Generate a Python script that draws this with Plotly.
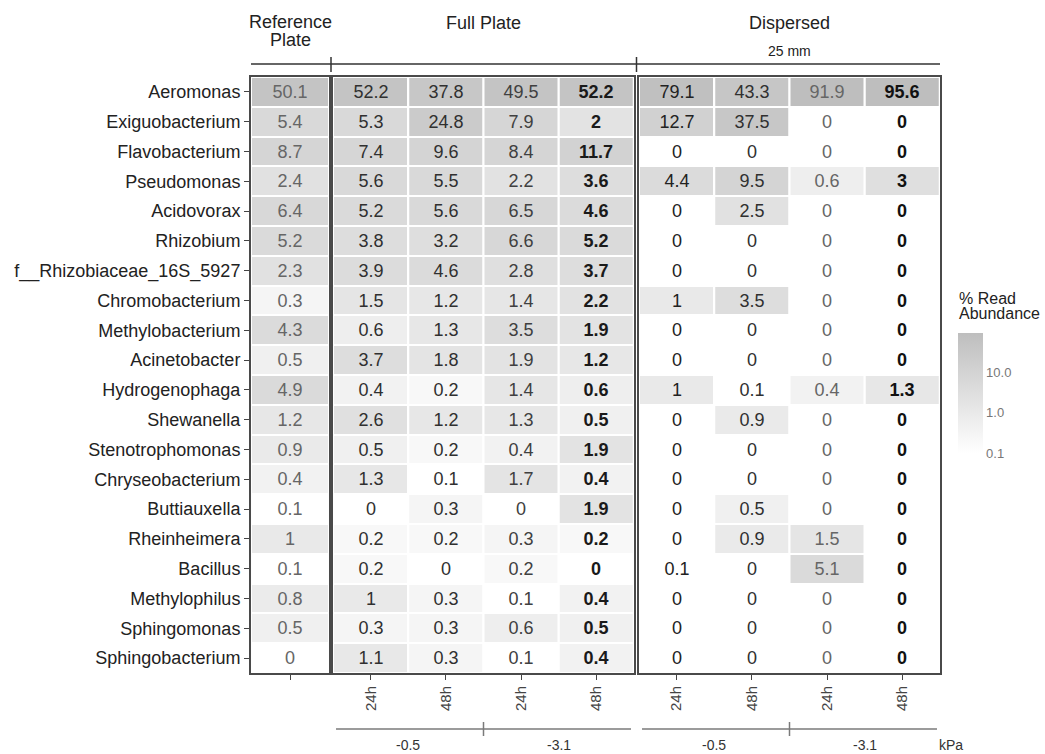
import numpy as np
import plotly.graph_objects as go

# Genera (rows, top to bottom)
genera = [
    "Aeromonas", "Exiguobacterium", "Flavobacterium", "Pseudomonas", "Acidovorax",
    "Rhizobium", "f__Rhizobiaceae_16S_5927", "Chromobacterium", "Methylobacterium",
    "Acinetobacter", "Hydrogenophaga", "Shewanella", "Stenotrophomonas",
    "Chryseobacterium", "Buttiauxella", "Rheinheimera", "Bacillus", "Methylophilus",
    "Sphingomonas", "Sphingobacterium",
]

# % read abundance per sample
reference_plate = [50.1, 5.4, 8.7, 2.4, 6.4, 5.2, 2.3, 0.3, 4.3, 0.5, 4.9, 1.2, 0.9, 0.4, 0.1, 1, 0.1, 0.8, 0.5, 0]

full_m05_24h = [52.2, 5.3, 7.4, 5.6, 5.2, 3.8, 3.9, 1.5, 0.6, 3.7, 0.4, 2.6, 0.5, 1.3, 0, 0.2, 0.2, 1, 0.3, 1.1]
full_m05_48h = [37.8, 24.8, 9.6, 5.5, 5.6, 3.2, 4.6, 1.2, 1.3, 1.8, 0.2, 1.2, 0.2, 0.1, 0.3, 0.2, 0, 0.3, 0.3, 0.3]
full_m31_24h = [49.5, 7.9, 8.4, 2.2, 6.5, 6.6, 2.8, 1.4, 3.5, 1.9, 1.4, 1.3, 0.4, 1.7, 0, 0.3, 0.2, 0.1, 0.6, 0.1]
full_m31_48h = [52.2, 2, 11.7, 3.6, 4.6, 5.2, 3.7, 2.2, 1.9, 1.2, 0.6, 0.5, 1.9, 0.4, 1.9, 0.2, 0, 0.4, 0.5, 0.4]

disp_m05_24h = [79.1, 12.7, 0, 4.4, 0, 0, 0, 1, 0, 0, 1, 0, 0, 0, 0, 0, 0.1, 0, 0, 0]
disp_m05_48h = [43.3, 37.5, 0, 9.5, 2.5, 0, 0, 3.5, 0, 0, 0.1, 0.9, 0, 0, 0.5, 0.9, 0, 0, 0, 0]
disp_m31_24h = [91.9, 0, 0, 0.6, 0, 0, 0, 0, 0, 0, 0.4, 0, 0, 0, 0, 1.5, 5.1, 0, 0, 0]
disp_m31_48h = [95.6, 0, 0, 3, 0, 0, 0, 0, 0, 0, 1.3, 0, 0, 0, 0, 0, 0, 0, 0, 0]

time_labels = ["24h", "48h", "24h", "48h"]
pressure_labels = ["-0.5", "-3.1"]
colorbar_ticks = [0.1, 1.0, 10.0]

FONT = "Liberation Sans, Arial, Helvetica, sans-serif"

# panel -> (axis suffix, columns, text colour, text weight)
panels = [
    ("", [reference_plate], [("#666666", "normal")]),
    ("2", [full_m05_24h, full_m05_48h, full_m31_24h, full_m31_48h],
     [("#303030", "normal"), ("#303030", "normal"), ("#404040", "normal"), ("#1a1a1a", "bold")]),
    ("3", [disp_m05_24h, disp_m05_48h, disp_m31_24h, disp_m31_48h],
     [("#222222", "normal"), ("#303030", "normal"), ("#666666", "normal"), ("#111111", "bold")]),
]

all_vals = np.array(reference_plate + full_m05_24h + full_m05_48h + full_m31_24h + full_m31_48h
                    + disp_m05_24h + disp_m05_48h + disp_m31_24h + disp_m31_48h, dtype=float)
pos = all_vals[all_vals > 0]
zmin, zmax = np.log10(pos.min()), np.log10(pos.max())


def log_fill(values):
    v = np.asarray(values, dtype=float)
    out = np.full(v.shape, zmin - 1.0)  # zero abundance -> below scale (white)
    out[v > 0] = np.log10(v[v > 0])
    return out


def fmt(v):
    return f"{v:g}"


fig = go.Figure()
for suffix, cols, styles in panels:
    for k, (col, (tcol, weight)) in enumerate(zip(cols, styles)):
        fig.add_trace(go.Heatmap(
            x=[k], y=genera,
            z=[[z] for z in log_fill(col)],
            text=[[fmt(v)] for v in col],
            texttemplate="%{text}",
            textfont=dict(family=FONT, size=18, color=tcol, weight=weight),
            coloraxis="coloraxis",
            xgap=2, ygap=2,
            xaxis="x" + suffix, yaxis="y" + suffix,
            hovertemplate="%{y}: %{text}<extra></extra>",
        ))

# plot area in pixels
W, H = 1045, 754
L, R, T, B = 251, 105, 77, 81
PW, PH = W - L - R, H - T - B


def px(xpix):
    return (xpix - L) / PW


def py(ypix):
    return (H - B - ypix) / PH


box = dict(showline=True, mirror=True, linecolor="#4a4a4a", linewidth=2, zeroline=False, showgrid=False)
xtick = dict(ticks="outside", ticklen=5, tickcolor="#444444", tickwidth=1,
             tickfont=dict(family=FONT, size=15, color="#444444"), tickangle=-90)
ycommon = dict(type="category", autorange="reversed", **box)

layout = dict(
    width=W, height=H,
    margin=dict(l=L, r=R, t=T, b=B, pad=0),
    paper_bgcolor="white", plot_bgcolor="white",
    font=dict(family=FONT, color="#222222"),
    showlegend=False,
    xaxis=dict(domain=[px(251), px(329)], range=[-0.5, 0.5], tickvals=[0], ticktext=[""], **xtick, **box),
    xaxis2=dict(domain=[px(333), px(634)], range=[-0.5, 3.5], tickvals=[0, 1, 2, 3], ticktext=time_labels, **xtick, **box),
    xaxis3=dict(domain=[px(639), px(940)], range=[-0.5, 3.5], tickvals=[0, 1, 2, 3], ticktext=time_labels, **xtick, **box),
    yaxis=dict(anchor="x", ticks="outside", ticklen=5, tickcolor="#444444",
               tickfont=dict(family=FONT, size=18, color="#222222"), **ycommon),
    yaxis2=dict(anchor="x2", matches="y", showticklabels=False, ticks="", **ycommon),
    yaxis3=dict(anchor="x3", matches="y", showticklabels=False, ticks="", **ycommon),
    coloraxis=dict(
        cmin=zmin, cmax=zmax,
        colorscale=[[0, "#ffffff"], [1, "#bebebe"]],
        colorbar=dict(
            x=px(958), xanchor="left", y=py(393), yanchor="middle",
            xpad=0, ypad=0,
            len=120, lenmode="pixels", thickness=25, thicknessmode="pixels",
            outlinewidth=0, ticks="",
            tickvals=[np.log10(t) for t in colorbar_ticks],
            ticktext=[f"{t:.1f}" for t in colorbar_ticks],
            tickfont=dict(family=FONT, size=13, color="#777777"),
        ),
    ),
)
fig.update_layout(**layout)

# column-group headers
headers = [
    ("Reference", "x domain", py(22), 18),
    ("Plate", "x domain", py(40), 18),
    ("Full Plate", "x2 domain", py(23), 18),
    ("Dispersed", "x3 domain", py(23), 18),
    ("25 mm", "x3 domain", py(51), 14),
]
for text, xref, yv, size in headers:
    fig.add_annotation(text=text, xref=xref, yref="paper", x=0.5, y=yv, showarrow=False,
                       xanchor="center", yanchor="middle",
                       font=dict(family=FONT, size=size, color="#222222"))

# top bracket spanning all panels
line_dark = dict(color="#333333", width=1.5)
fig.add_shape(type="line", xref="paper", yref="paper", x0=px(251), x1=px(940), y0=py(64), y1=py(64), line=line_dark)
for xb in (331, 636.5):
    fig.add_shape(type="line", xref="paper", yref="paper", x0=px(xb), x1=px(xb), y0=py(57), y1=py(72), line=line_dark)

# bottom pressure brackets
line_grey = dict(color="#7a7a7a", width=1.5)
for ax in ("x2", "x3"):
    fig.add_shape(type="line", xref=ax, yref="paper", x0=-0.46, x1=3.46, y0=py(729), y1=py(729), line=line_grey)
    fig.add_shape(type="line", xref=ax, yref="paper", x0=1.5, x1=1.5, y0=py(722), y1=py(736), line=line_grey)
    for j, lab in enumerate(pressure_labels):
        fig.add_annotation(text=lab, xref=ax, yref="paper", x=0.5 + 2 * j, y=py(745), showarrow=False,
                           xanchor="center", yanchor="middle",
                           font=dict(family=FONT, size=14, color="#333333"))
fig.add_annotation(text="kPa", xref="paper", yref="paper", x=px(951), y=py(745), showarrow=False,
                   xanchor="center", yanchor="middle", font=dict(family=FONT, size=14, color="#333333"))

# colour legend title
for text, yv in (("% Read", 298), ("Abundance", 313)):
    fig.add_annotation(text=text, xref="paper", yref="paper", x=px(957), y=py(yv),
                       showarrow=False, xanchor="left", yanchor="middle", align="left",
                       font=dict(family=FONT, size=16, color="#222222"))

fig.write_html("out.html")
